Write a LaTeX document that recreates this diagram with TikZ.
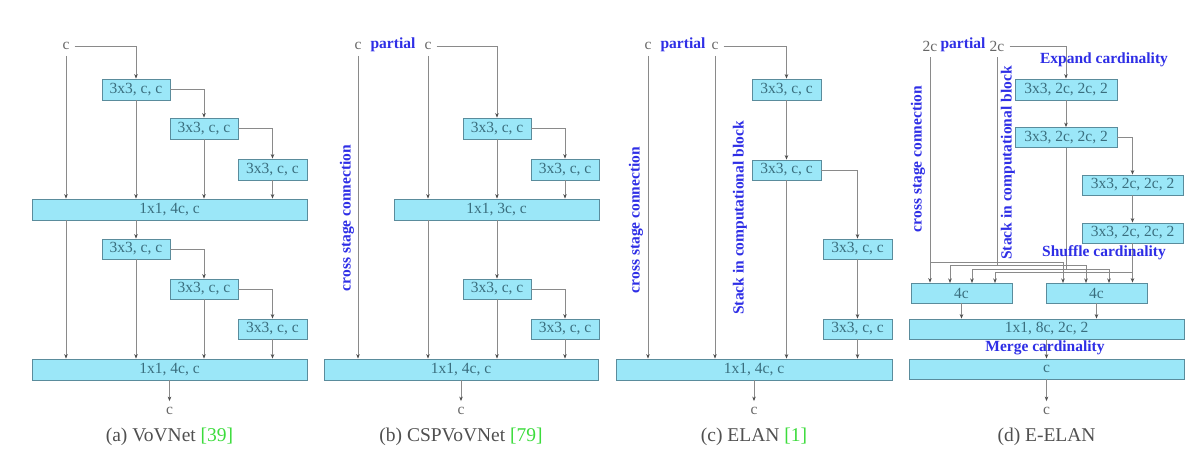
\documentclass[tikz,border=0pt]{standalone}
\usepackage{fontspec}
\setmainfont{Liberation Serif}
\usetikzlibrary{arrows.meta,calc}
\definecolor{boxfill}{HTML}{9BE7F8}
\definecolor{boxdraw}{HTML}{5A8C9C}
\definecolor{boxtext}{HTML}{3A6E7E}
\definecolor{linegray}{HTML}{8A8A8A}
\definecolor{labgray}{HTML}{666666}
\definecolor{lblue}{HTML}{2E2EE6}
\definecolor{citegreen}{HTML}{3CDC3C}
\definecolor{capgray}{HTML}{505050}
\begin{document}
\begin{tikzpicture}[x=1pt,y=-1pt,
  blk/.style={draw=boxdraw, fill=boxfill, line width=0.8pt, text=boxtext, inner sep=0pt, font=\fontsize{15.5}{18}\selectfont},
  io/.style={text=labgray, inner xsep=5pt, inner ysep=6pt, font=\fontsize{15.5}{18}\selectfont},
  blab/.style={text=lblue, inner sep=0pt, font=\fontsize{15.5}{18}\selectfont\bfseries},
  captxt/.style={text=capgray, inner sep=0pt, font=\fontsize{19.5}{22}\selectfont},
  ln/.style={draw=linegray, line width=0.7pt},
  arr/.style={ln, -{Stealth[length=4.5pt,width=3.5pt,color=black!70]}},
]
\fill[white] (0,0) rectangle (1200,460);
\useasboundingbox (0,0) rectangle (1200,460);

% ---------------- (a) VoVNet ----------------
\node[io] (ac) at (66,46) {c};
\node[blk, minimum width=68, minimum height=21] (a1) at (136,89.5) {3x3, c, c};
\node[blk, minimum width=68, minimum height=21] (a2) at (204,128.5) {3x3, c, c};
\node[blk, minimum width=69, minimum height=21] (a3) at (272.5,169.5) {3x3, c, c};
\node[blk, minimum width=275, minimum height=21] (A1) at (169.5,209.5) {1x1, 4c, c};
\node[blk, minimum width=68, minimum height=20] (a4) at (136,249) {3x3, c, c};
\node[blk, minimum width=68, minimum height=20] (a5) at (204,289) {3x3, c, c};
\node[blk, minimum width=69, minimum height=20] (a6) at (272.5,329) {3x3, c, c};
\node[blk, minimum width=275, minimum height=21] (A2) at (169.5,369.5) {1x1, 4c, c};
\node[io] (aout) at (169.5,411) {c};
\node[captxt] (acap) at (169.5,437) {(a) VoVNet \textcolor{citegreen}{[39]}};

\draw[arr] (ac.east) -| (a1.north);
\draw[arr] (ac.south) -- (ac.south |- A1.north);
\draw[arr] (a1.south) -- (a1.south |- A1.north);
\draw[arr] (a1.east) -| (a2.north);
\draw[arr] (a2.south) -- (a2.south |- A1.north);
\draw[arr] (a2.east) -| (a3.north);
\draw[arr] (a3.south) -- (a3.south |- A1.north);
\draw[arr] (A1.south -| ac.south) -- (ac.south |- A2.north);
\draw[arr] (A1.south -| a4.north) -- (a4.north);
\draw[arr] (a4.south) -- (a4.south |- A2.north);
\draw[arr] (a4.east) -| (a5.north);
\draw[arr] (a5.south) -- (a5.south |- A2.north);
\draw[arr] (a5.east) -| (a6.north);
\draw[arr] (a6.south) -- (a6.south |- A2.north);
\draw[arr] (A2.south) -- (aout.north);

% ---------------- (b) CSPVoVNet ----------------
\node[io] (bc1) at (358,46) {c};
\node[blab] (bpart) at (393,45) {partial};
\node[io] (bc2) at (428,46) {c};
\node[blk, minimum width=68, minimum height=21] (b1) at (497,128.5) {3x3, c, c};
\node[blk, minimum width=68, minimum height=21] (b2) at (565,169.5) {3x3, c, c};
\node[blk, minimum width=205, minimum height=21] (B1) at (496.5,209.5) {1x1, 3c, c};
\node[blk, minimum width=68, minimum height=20] (b3) at (497,289) {3x3, c, c};
\node[blk, minimum width=68, minimum height=20] (b4) at (565,329) {3x3, c, c};
\node[blk, minimum width=274, minimum height=21] (B2) at (461,369.5) {1x1, 4c, c};
\node[io] (bout) at (461,411) {c};
\node[captxt] (bcap) at (461,437) {(b) CSPVoVNet \textcolor{citegreen}{[79]}};

\draw[arr] (bc2.east) -| (b1.north);
\draw[arr] (bc2.south) -- (bc2.south |- B1.north);
\draw[arr] (b1.south) -- (b1.south |- B1.north);
\draw[arr] (b1.east) -| (b2.north);
\draw[arr] (b2.south) -- (b2.south |- B1.north);
\draw[arr] (bc1.south) -- (bc1.south |- B2.north);
\draw[arr] (B1.south -| bc2.south) -- (bc2.south |- B2.north);
\draw[arr] (B1.south -| b3.north) -- (b3.north);
\draw[arr] (b3.south) -- (b3.south |- B2.north);
\draw[arr] (b3.east) -| (b4.north);
\draw[arr] (b4.south) -- (b4.south |- B2.north);
\draw[arr] (B2.south) -- (bout.north);
\node[blab, rotate=90] (bcs) at (347,218) {cross stage connection};

% ---------------- (c) ELAN ----------------
\node[io] (cc1) at (648,46) {c};
\node[blab] (cpart) at (683,45) {partial};
\node[io] (cc2) at (715,46) {c};
\node[blk, minimum width=69, minimum height=21] (c1) at (786.5,89.5) {3x3, c, c};
\node[blk, minimum width=69, minimum height=20] (c2) at (786.5,170) {3x3, c, c};
\node[blk, minimum width=69, minimum height=20] (c3) at (857.5,249) {3x3, c, c};
\node[blk, minimum width=69, minimum height=20] (c4) at (857.5,329) {3x3, c, c};
\node[blk, minimum width=276, minimum height=21] (C1) at (754,369.5) {1x1, 4c, c};
\node[io] (cout) at (754,411) {c};
\node[captxt] (ccap) at (754,437) {(c) ELAN \textcolor{citegreen}{[1]}};

\draw[arr] (cc2.east) -| (c1.north);
\draw[arr] (c1.south) -- (c2.north);
\draw[arr] (c2.south) -- (c2.south |- C1.north);
\draw[arr] (c2.east) -| (c3.north);
\draw[arr] (c3.south) -- (c4.north);
\draw[arr] (c4.south) -- (c4.south |- C1.north);
\draw[arr] (cc1.south) -- (cc1.south |- C1.north);
\draw[arr] (cc2.south) -- (cc2.south |- C1.north);
\draw[arr] (C1.south) -- (cout.north);
\node[blab, rotate=90] (ccs) at (636,220) {cross stage connection};
\node[blab, rotate=90] (cstk) at (740,218) {Stack in computational block};

% ---------------- (d) E-ELAN ----------------
\node[io] (dc1) at (930,46) {2c};
\node[blab] (dpart) at (963,45) {partial};
\node[io] (dc2) at (997,46) {2c};
\node[blk, minimum width=102, minimum height=21] (d1) at (1066,89.5) {3x3, 2c, 2c, 2};
\node[blk, minimum width=102, minimum height=20] (d2) at (1066,137.5) {3x3, 2c, 2c, 2};
\node[blk, minimum width=101, minimum height=20] (d3) at (1132.5,185) {3x3, 2c, 2c, 2};
\node[blk, minimum width=101, minimum height=20] (d4) at (1132.5,233) {3x3, 2c, 2c, 2};
\node[blk, minimum width=101, minimum height=20] (L4) at (961.5,293) {4c};
\node[blk, minimum width=101, minimum height=20] (R4) at (1096.5,293) {4c};
\node[blk, minimum width=275, minimum height=20] (D1) at (1046.5,329) {1x1, 8c, 2c, 2};
\node[blk, minimum width=275, minimum height=20] (D2) at (1046.5,369) {c};
\node[io] (dout) at (1046.5,411) {c};
\node[captxt] (dcap) at (1046.5,437) {(d) E-ELAN};

\draw[arr] (dc2.east) -| (d1.north);
\draw[arr] (d1.south) -- (d2.north);
\draw[arr] (d2.east) -| (d3.north);
\draw[arr] (d3.south) -- (d4.north);

\coordinate (lv1) at (0,262);
\coordinate (lv2) at (0,265.5);
\coordinate (lv3) at (0,269);
\coordinate (lv4) at (0,272.5);
\coordinate (tl2) at (950,283);
\coordinate (tl3) at (972,283);
\coordinate (tl4) at (995,283);
\coordinate (tr1) at (1063,283);
\coordinate (tr2) at (1086,283);
\coordinate (tr3) at (1109,283);

\draw[arr] (dc1.south) -- (dc1.south |- L4.north);
\draw[arr] (dc1.south |- lv1) -| (tr1);
\draw[ln] (dc2.south) -- (dc2.south |- lv2);
\draw[arr] (dc2.south |- lv2) -| (tl2);
\draw[arr] (dc2.south |- lv2) -| (tr2);
\draw[ln] (d2.south) -- (d2.south |- lv3);
\draw[arr] (d2.south |- lv3) -| (tl3);
\draw[arr] (d2.south |- lv3) -| (tr3);
\draw[arr] (d4.south) -- (d4.south |- R4.north);
\draw[arr] (d4.south |- lv4) -| (tl4);

\draw[arr] (L4.south) -- (L4.south |- D1.north);
\draw[arr] (R4.south) -- (R4.south |- D1.north);
\draw[arr] (D1.south) -- (D2.north);
\draw[arr] (D2.south) -- (dout.north);

\node[blab] (dexp) at (1104,60) {Expand cardinality};
\node[blab] (dshuf) at (1104,253) {Shuffle cardinality};
\node[blab] (dmerge) at (1045,348) {Merge cardinality};
\node[blab, rotate=90] (dcs) at (918,159) {cross stage connection};
\node[blab, rotate=90] (dstk) at (1008,163) {Stack in computational block};
\end{tikzpicture}
\end{document}
